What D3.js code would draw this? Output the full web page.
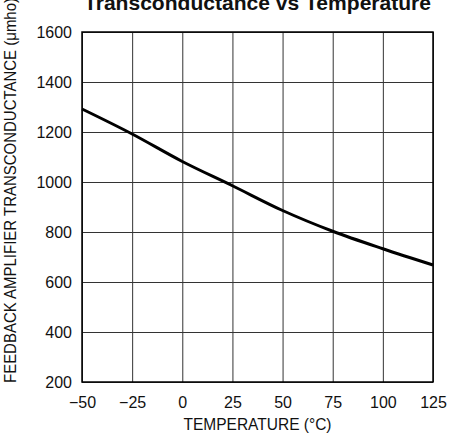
<!DOCTYPE html>
<html>
<head>
<meta charset="utf-8">
<script src="https://cdn.jsdelivr.net/npm/d3@7"></script>
<style>
  body { margin: 0; background: #fff; }
  text { font-family: "Liberation Sans", Arial, sans-serif; fill: #111; }
</style>
</head>
<body>
<div id="chart"></div>
<script>
const MARGIN = { LEFT: 82, RIGHT: 18, TOP: 32, BOTTOM: 60 };
const WIDTH = 451 - MARGIN.LEFT - MARGIN.RIGHT;
const HEIGHT = 442 - MARGIN.TOP - MARGIN.BOTTOM;

// data
const temps = [-50, -25, 0, 25, 50, 75, 100, 125];
const gm = [1292, 1192, 1082, 985, 886, 803, 733, 668];
const xTicks = [-50, -25, 0, 25, 50, 75, 100, 125];
const yTicks = [200, 400, 600, 800, 1000, 1200, 1400, 1600];

const svg = d3
  .select("#chart")
  .append("svg")
  .attr("width", 451)
  .attr("height", 442);

const g = svg
  .append("g")
  .attr("transform", `translate(${MARGIN.LEFT}, ${MARGIN.TOP})`);

const x = d3.scaleLinear().domain([-50, 125]).range([0, WIDTH]);
const y = d3.scaleLinear().domain([200, 1600]).range([HEIGHT, 0]);

// grid lines
const xGrid = g
  .append("g")
  .attr("transform", `translate(0, ${HEIGHT})`)
  .call(d3.axisBottom(x).tickValues(xTicks).tickSize(-HEIGHT).tickFormat(""));
const yGrid = g
  .append("g")
  .call(d3.axisLeft(y).tickValues(yTicks).tickSize(-WIDTH).tickFormat(""));
[xGrid, yGrid].forEach((a) => {
  a.select(".domain").remove();
  a.selectAll("line").attr("stroke", "#333").attr("stroke-width", 1);
});

// tick labels
const xAxis = g
  .append("g")
  .attr("transform", `translate(0, ${HEIGHT})`)
  .call(
    d3.axisBottom(x).tickValues(xTicks).tickSize(0).tickPadding(15)
      .tickFormat((d) => (d < 0 ? "\u2212" + Math.abs(d) : d))
  );
const yAxis = g
  .append("g")
  .call(
    d3.axisLeft(y).tickValues(yTicks).tickSize(0).tickPadding(10)
      .tickFormat(d3.format("d"))
  );
[xAxis, yAxis].forEach((a) => {
  a.select(".domain").remove();
  a.selectAll("text")
    .style("font-family", '"Liberation Sans", Arial, sans-serif')
    .attr("font-size", "16px")
    .attr("fill", "#111");
});

// frame
g.append("rect")
  .attr("width", WIDTH)
  .attr("height", HEIGHT)
  .attr("fill", "none")
  .attr("stroke", "#000")
  .attr("stroke-width", 1.5);

// curve
const line = d3
  .line()
  .x((d, i) => x(temps[i]))
  .y((d) => y(d))
  .curve(d3.curveMonotoneX);

g.append("path")
  .attr("fill", "none")
  .attr("stroke", "#000")
  .attr("stroke-width", 3)
  .attr("d", line(gm));

// title (cut off at the top in the reference)
svg.append("text")
  .attr("x", MARGIN.LEFT + WIDTH / 2)
  .attr("y", 10)
  .attr("text-anchor", "middle")
  .attr("font-size", "21px")
  .attr("font-weight", "bold")
  .attr("textLength", 347)
  .attr("lengthAdjust", "spacingAndGlyphs")
  .text("Transconductance vs Temperature");

// axis titles
svg.append("text")
  .attr("x", MARGIN.LEFT + WIDTH / 2)
  .attr("y", 430)
  .attr("text-anchor", "middle")
  .attr("font-size", "16px")
  .attr("textLength", 148)
  .attr("lengthAdjust", "spacingAndGlyphs")
  .text("TEMPERATURE (\u00B0C)");

svg.append("text")
  .attr("transform", "translate(16, 383) rotate(-90)")
  .attr("text-anchor", "start")
  .attr("font-size", "16px")
  .attr("textLength", 385)
  .attr("lengthAdjust", "spacingAndGlyphs")
  .text("FEEDBACK AMPLIFIER TRANSCONDUCTANCE (\u03BCmho)");
</script>
</body>
</html>
